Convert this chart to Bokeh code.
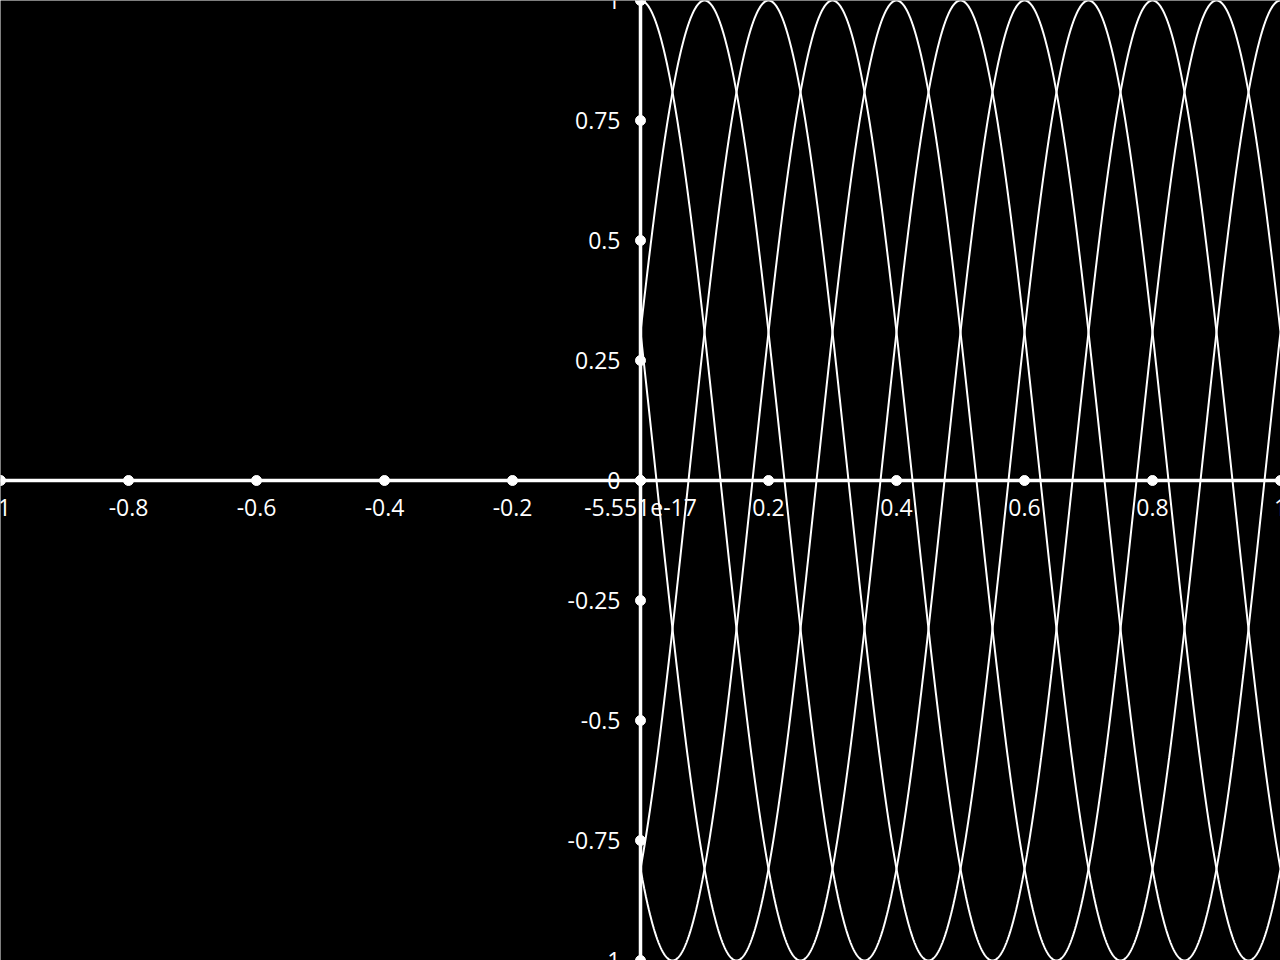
import numpy as np
from bokeh.plotting import figure
from bokeh.models import Range1d, ColumnDataSource
from bokeh.core.properties import value
from bokeh.embed import file_html
from bokeh.resources import INLINE

# ---- data ----
x_ticks = [-1, -0.8, -0.6, -0.4, -0.2, 0, 0.2, 0.4, 0.6, 0.8, 1]
x_tick_labels = ["-1", "-0.8", "-0.6", "-0.4", "-0.2", "-5.551e-17",
                 "0.2", "0.4", "0.6", "0.8", "1"]
y_ticks = [-1, -0.75, -0.5, -0.25, 0, 0.25, 0.5, 0.75, 1]
y_tick_labels = ["-1", "-0.75", "-0.5", "-0.25", "0", "0.25", "0.5", "0.75", "1"]

# five cosine curves y = cos(2*pi*(freq*x + phase))
curve_freq = 2.0                       # cycles per unit of x
curve_phases = [0.0, 0.2, 0.4, 0.6, 0.8]  # phase as fraction of a cycle
x_domain = [0.0, 1.0]

FONT = value("Open Sans")
WHITE = "white"

p = figure(width=1280, height=960, output_backend="svg", toolbar_location=None,
           x_range=Range1d(-1, 1), y_range=Range1d(-1, 1),
           x_axis_location=None, y_axis_location=None,
           min_border=0, min_border_left=0, min_border_right=0,
           min_border_top=0, min_border_bottom=0)
p.background_fill_color = "black"
p.border_fill_color = "black"
p.outline_line_color = None
p.grid.visible = False

# curves
xs = np.linspace(x_domain[0], x_domain[1], 2001)
for ph in curve_phases:
    ys = np.cos(2 * np.pi * (curve_freq * xs + ph))
    p.line(xs, ys, line_color=WHITE, line_width=2)

# axes lines through origin
p.line([x_ticks[0], x_ticks[-1]], [0, 0], line_color=WHITE, line_width=3.5)
p.line([0, 0], [y_ticks[0], y_ticks[-1]], line_color=WHITE, line_width=3.5)

# tick dots
p.scatter(x_ticks, [0] * len(x_ticks), size=10, color=WHITE)
p.scatter([0] * len(y_ticks), y_ticks, size=10, color=WHITE)

# tick labels
xsrc = ColumnDataSource(dict(x=x_ticks, y=[0] * len(x_ticks), t=x_tick_labels))
p.text(x="x", y="y", text="t", source=xsrc, text_color=WHITE,
       text_font=FONT, text_font_size="23px", text_align="center",
       text_baseline="middle", y_offset=27)
ysrc = ColumnDataSource(dict(x=[0] * len(y_ticks), y=y_ticks, t=y_tick_labels))
p.text(x="x", y="y", text="t", source=ysrc, text_color=WHITE,
       text_font=FONT, text_font_size="23px", text_align="right",
       text_baseline="middle", x_offset=-20)

open("out.html", "w").write(file_html(p, INLINE))
